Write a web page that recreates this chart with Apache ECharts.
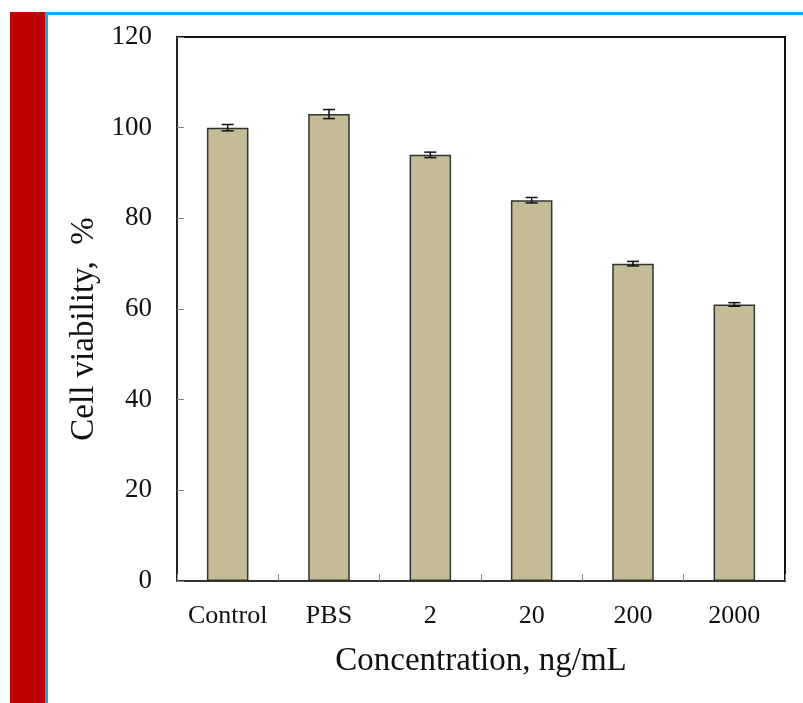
<!DOCTYPE html>
<html><head><meta charset="utf-8">
<script src="https://cdn.jsdelivr.net/npm/echarts@6/dist/echarts.min.js"></script>
<style>html,body{margin:0;padding:0;background:#fff}#c{width:803px;height:703px}</style>
</head><body><div id="c"></div>
<script>
const categories = ['Control', 'PBS', '2', '20', '200', '2000'];
const viability = [100, 103, 94, 84, 70, 61];
const errors = [0.7, 1.0, 0.6, 0.6, 0.5, 0.4];
const yTicks = [0, 20, 40, 60, 80, 100, 120];

const chart = echarts.init(document.getElementById('c'));
const font = '"Liberation Serif", "Times New Roman", serif';
chart.setOption({
  animation: false,
  backgroundColor: '#fff',
  graphic: [
    {type: 'rect', shape: {x: 10, y: 12, width: 35, height: 700}, style: {fill: '#c00000'}, silent: true},
    {type: 'rect', shape: {x: 45, y: 12, width: 760, height: 3}, style: {fill: '#00b0f0'}, silent: true},
    {type: 'rect', shape: {x: 45, y: 12, width: 3, height: 700}, style: {fill: '#00b0f0'}, silent: true}
  ],
  grid: {left: 177, right: 18, top: 37, bottom: 122, show: true, borderColor: '#111', borderWidth: 2, backgroundColor: 'transparent'},
  xAxis: {
    type: 'category', data: categories,
    axisLine: {lineStyle: {color: '#333', width: 2}},
    axisTick: {show: true, inside: true, length: 7, interval: 0, lineStyle: {color: '#888'}},
    axisLabel: {fontFamily: font, fontSize: 26, color: '#111', margin: 22, interval: 0, hideOverlap: false},
    name: 'Concentration, ng/mL', nameLocation: 'middle', nameGap: 64,
    nameTextStyle: {fontFamily: font, fontSize: 33, color: '#111'}
  },
  yAxis: {
    type: 'value', min: 0, max: 120, interval: 20,
    axisLine: {show: true, lineStyle: {color: '#222', width: 2}},
    axisTick: {show: true, inside: true, length: 7, lineStyle: {color: '#888'}},
    splitLine: {show: false},
    axisLabel: {fontFamily: font, fontSize: 27, color: '#111', margin: 25,
      formatter: v => yTicks.includes(v) ? String(v) : ''},
    name: 'Cell viability,  %', nameLocation: 'middle', nameGap: 76,
    nameTextStyle: {fontFamily: font, fontSize: 33, color: '#111', padding: [0, 40, 0, 0]}
  },
  series: [
    {type: 'bar', data: viability, barWidth: '41%',
      itemStyle: {color: '#c4bc96', borderColor: '#333', borderWidth: 1.5}},
    {type: 'custom', data: viability.map((v, i) => [i, v, errors[i]]), z: 10,
      renderItem: function (params, api) {
        const i = api.value(0), v = api.value(1), e = api.value(2);
        const hi = api.coord([i, v + e]), lo = api.coord([i, v - e]);
        const w = 6;
        const st = {stroke: '#111', lineWidth: 1.5};
        return {type: 'group', children: [
          {type: 'line', shape: {x1: hi[0], y1: hi[1], x2: lo[0], y2: lo[1]}, style: st},
          {type: 'line', shape: {x1: hi[0] - w, y1: hi[1], x2: hi[0] + w, y2: hi[1]}, style: st},
          {type: 'line', shape: {x1: lo[0] - w, y1: lo[1], x2: lo[0] + w, y2: lo[1]}, style: st}
        ]};
      }}
  ]
});
</script></body></html>
